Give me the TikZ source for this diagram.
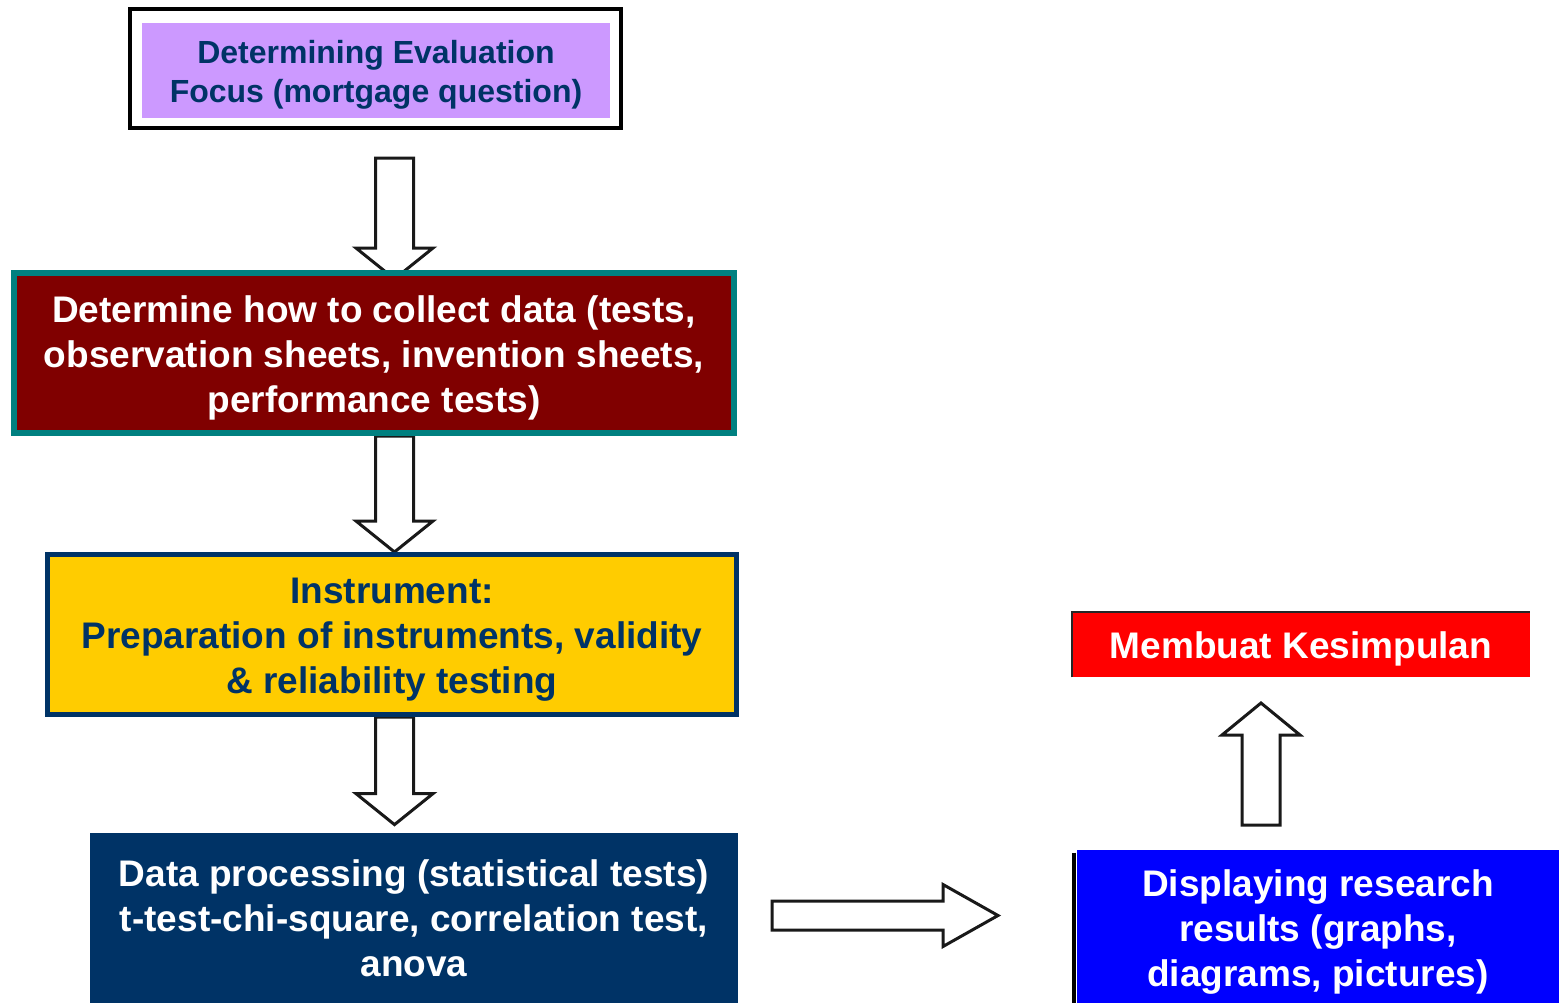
\documentclass[tikz,border=0pt]{standalone}
\usepackage{fontspec}
\setmainfont{Liberation Sans}
\usetikzlibrary{calc,backgrounds}
\definecolor{navy}{HTML}{003366}
\definecolor{lilac}{HTML}{CC99FF}
\definecolor{tealc}{HTML}{008080}
\definecolor{maroonc}{HTML}{800000}
\definecolor{goldc}{HTML}{FFCC00}
\definecolor{redc}{HTML}{FF0000}
\definecolor{bluec}{HTML}{0000FF}
\newcommand\blkarrow[5]{%
  \coordinate (hb) at ($(#2)!#5!(#1)$);
  \draw[blk] ($(#1)!#3!90:(#2)$) -- ($(hb)!#3!-90:(#1)$) -- ($(hb)!#4!-90:(#1)$) -- (#2)
    -- ($(hb)!#4!90:(#1)$) -- ($(hb)!#3!90:(#1)$) -- ($(#1)!#3!-90:(#2)$) -- cycle;}
\begin{document}
\begin{tikzpicture}[x=0.5pt,y=-0.5pt,
  txt/.style={font=\fontsize{18.5pt}{22.5pt}\selectfont\bfseries, align=center, inner sep=0pt},
  blk/.style={draw=black!90, fill=white, line width=1.5pt, line join=miter},
  boxa/.style={fill=lilac, minimum width=234pt, minimum height=47.5pt, inner sep=0pt},
  txta/.style={txt, text=navy, font=\fontsize{16pt}{19.5pt}\selectfont\bfseries},
  framea/.style={draw=black, line width=2pt, fill=white, minimum width=245.5pt, minimum height=59.5pt, inner sep=0pt},
  boxb/.style={fill=maroonc, draw=tealc, line width=3pt, minimum width=360pt, minimum height=80pt, inner sep=0pt},
  boxc/.style={fill=goldc, draw=navy, line width=2.5pt, minimum width=344.5pt, minimum height=80pt, inner sep=0pt},
  boxd/.style={txt, fill=navy, text=white, minimum width=324pt, minimum height=85pt},
  boxr/.style={fill=redc, minimum width=229pt, minimum height=32.5pt, inner sep=0pt},
  boxbl/.style={fill=bluec, minimum width=241.5pt, minimum height=79pt, inner sep=0pt}]
\useasboundingbox (0,0) rectangle (1559,1002);
\clip (0,0) rectangle (1559,1002);

\node[framea] (f1) at (375.5,68.5) {};
\node[boxa] (b1) at (376,70.5) {};
\node[txta] (b1t) at ($(b1)+(0,4)$) {Determining Evaluation\\Focus (mortgage question)};
\node[boxb] (b2) at (374,353) {};
\node[txt, text=white] (b2t) at ($(b2)+(0,5)$) {Determine how to collect data (tests,\\observation sheets, invention sheets,\\performance tests)};
\node[boxc] (b3) at (392,634.5) {};
\node[txt, text=navy] (b3t) at ($(b3)+(0,5)$) {Instrument:\\Preparation of instruments, validity\\\& reliability testing};
\node[boxd] (b4) at (414,918) {Data processing (statistical tests)\\t-test-chi-square, correlation test,\\anova};
\node[boxr] (mk) at (1301,644.5) {};
\node[txt, text=white] (mkt) at ($(mk)+(0,4)$) {Membuat Kesimpulan};
\node[boxbl] (disp) at (1318,929) {};
\node[txt, text=white] (dispt) at ($(disp)+(0,3)$) {Displaying research\\results (graphs,\\diagrams, pictures)};

\draw[line width=1pt, black!85] (mk.south west) |- (mk.north east);
\draw[line width=2pt, black] ([xshift=-1pt,yshift=-1.5pt]disp.north west) -- ([xshift=-1pt]disp.south west);

\coordinate (ax) at (394.5,0);
\coordinate (a1s) at (394.5,158);
\coordinate (a1t) at (394.5,279);
\coordinate (a3t) at ($(b4.north -| ax)+(0,-8)$);
\coordinate (rs) at (772,915.5);
\coordinate (rt) at (998,915.5);
\coordinate (us) at (1261,825);
\coordinate (ut) at (1261,703);

\begin{pgfonlayer}{background}
\fill[white] (0,0) rectangle (1559,1002);
\blkarrow{a1s}{a1t}{9.5pt}{19.25pt}{15.5pt}
\blkarrow{b2.south -| ax}{b3.north -| ax}{9.5pt}{19.25pt}{15.5pt}
\blkarrow{b3.south -| ax}{a3t}{9.5pt}{19.25pt}{15.5pt}
\blkarrow{rs}{rt}{7.25pt}{15.5pt}{27.5pt}
\blkarrow{us}{ut}{9.5pt}{19.5pt}{16pt}
\end{pgfonlayer}
\end{tikzpicture}
\end{document}
